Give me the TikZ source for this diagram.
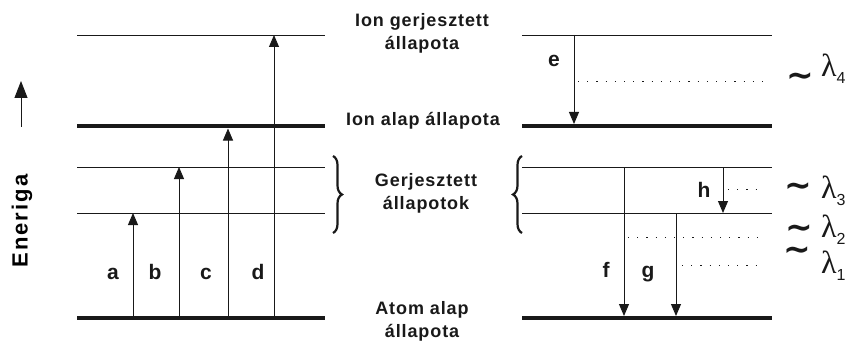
\documentclass[tikz,border=0pt]{standalone}
\usepackage{fontspec}
\setmainfont{Liberation Sans}
\newfontfamily\lamfont{Liberation Serif}
\newfontfamily\symfont{DejaVu Sans}
\usepackage{tikz}
\usetikzlibrary{arrows.meta, positioning, calc, decorations.pathreplacing}
\definecolor{mydark}{RGB}{25,25,25}
\tikzset{
  level/.style={line width=0.9pt, color=mydark},
  baselevel/.style={line width=4.8pt, color=mydark},
  trans/.style={-{Triangle[length=12pt,width=10pt]}, line width=0.9pt, color=mydark},
  emline/.style={dash pattern=on 1.2pt off 8pt, line width=0.9pt, color=mydark},
  statelbl/.style={font=\fontsize{18}{23}\selectfont\bfseries\addfontfeature{LetterSpace=5},
    align=center, inner sep=0pt, color=mydark},
  letter/.style={font=\fontsize{21}{21}\selectfont\bfseries, inner sep=0pt, anchor=base, color=mydark},
  tilde/.style={font=\fontsize{33}{33}\selectfont\symfont\bfseries, inner sep=0pt,
    text height=5pt, text depth=0pt, color=mydark},
  wave/.style={font=\fontsize{32}{32}\selectfont\lamfont, inner sep=0pt, anchor=west, color=mydark},
  bracelbl/.style={decorate, decoration={brace, amplitude=9pt, aspect=0.5}, line width=2.2pt, color=mydark}
}
\newcommand{\wl}[1]{λ\raisebox{-7pt}{\fontsize{16}{16}\selectfont\rmfamily #1}}

\begin{document}
\begin{tikzpicture}[x=1pt, y=-1pt]
  \useasboundingbox (0,0) rectangle (856,342);

  % Energy axis
  \coordinate (en0) at (21,127);
  \coordinate (en1) at (21,81);
  \draw[trans, -{Triangle[length=17pt,width=13pt]}] (en0) -- (en1);
  \node[rotate=90, font=\fontsize{22}{22}\selectfont\bfseries\addfontfeature{LetterSpace=9}, inner sep=0pt] (energy) at (22,221) {Eneriga};

  % Levels, left and right
  \foreach \xa/\xb in {77/325, 522/772} {
    \draw[level] (\xa,35) -- (\xb,35);
    \draw[baselevel] (\xa,126) -- (\xb,126);
    \draw[level] (\xa,167) -- (\xb,167);
    \draw[level] (\xa,213) -- (\xb,213);
    \draw[baselevel] (\xa,318) -- (\xb,318);
  }

  % State labels
  \node[statelbl] (ionexc) at (422,33) {Ion gerjesztett\\állapota};
  \node[statelbl] (iongnd) at (423,121) {Ion alap állapota};
  \node[statelbl] (exc) at (426,193) {Gerjesztett\\állapotok};
  \node[statelbl] (atomgnd) at (422,321) {Atom alap\\állapota};

  \draw[bracelbl] (333,156) -- (333,233);
  \draw[bracelbl] (522,233) -- (522,156);

  % Excitation (left)
  \foreach \nm/\x/\y/\lx in {a/133/213/113, b/179/167/155, c/228/128.5/206, d/274/35/258} {
    \coordinate (\nm0) at (\x,318);
    \coordinate (\nm1) at (\x,\y);
    \draw[trans] (\nm0) -- (\nm1);
    \node[letter] (\nm lbl) at (\lx,279) {\nm};
  }

  % Emission (right)
  \coordinate (e0) at (574,35);   \coordinate (e1) at (574,124);
  \coordinate (f0) at (624,167);  \coordinate (f1) at (624,316);
  \coordinate (g0) at (676,213);  \coordinate (g1) at (676,316);
  \coordinate (h0) at (723,167);  \coordinate (h1) at (723,213);
  \foreach \nm in {e,f,g,h}
    \draw[trans] (\nm0) -- (\nm1);
  \node[letter] (elbl) at (554,67) {e};
  \node[letter] (flbl) at (606,277) {f};
  \node[letter] (glbl) at (648,277) {g};
  \node[letter] (hlbl) at (704,197) {h};

  % Wavelengths
  \foreach \i/\xs/\y/\tx/\ty/\wy in {4/578/81/800/84/69, 3/728/189/798/194/191, 2/628/237/799/236/230, 1/682/265/797/258/266} {
    \coordinate (w\i0) at (\xs,\y);
    \coordinate (w\i1) at (763,\y);
    \draw[emline] (w\i0) -- (w\i1);
    \node[tilde] (t\i) at (\tx,\ty) {∼};
    \node[wave] (lam\i) at (821,\wy) {\wl{\i}};
  }
\end{tikzpicture}
\end{document}
